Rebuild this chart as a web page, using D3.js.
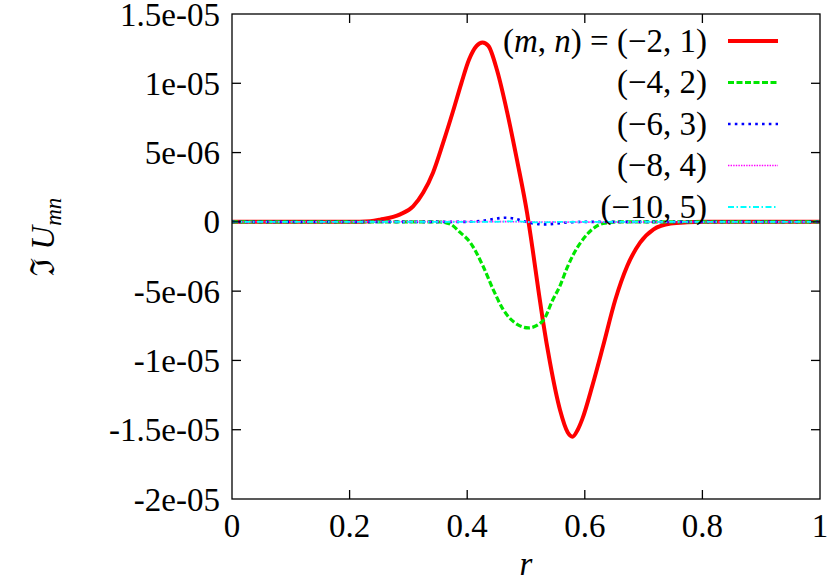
<!DOCTYPE html>
<html>
<head>
<meta charset="utf-8">
<script src="https://cdn.jsdelivr.net/npm/d3@7"></script>
<style>
  html, body { margin: 0; padding: 0; background: #fff; }
  svg { display: block; }
  html body div#chart svg#plotsvg text.lbl,
  html body div#chart svg#plotsvg text.lbl tspan {
    font-family: 'Liberation Serif', Tinos, 'Times New Roman', 'Noto Serif', serif !important;
  }
</style>
</head>
<body>
<div id="chart"></div>
<script>
// r grid and values per mode
const red_r = [0, 0.20, 0.235, 0.252, 0.286, 0.308, 0.325, 0.342, 0.359, 0.376, 0.39, 0.403, 0.416, 0.426, 0.436, 0.451, 0.468, 0.485, 0.502, 0.511, 0.521, 0.529, 0.541, 0.558, 0.571, 0.579, 0.588, 0.596, 0.613, 0.631, 0.652, 0.672, 0.694, 0.717, 0.746, 0.774, 0.80, 1];
const red_v = [0, 0, 5e-8, 1.6e-7, 5.4e-7, 1.12e-6, 2.1e-6, 3.57e-6, 5.7e-6, 8.0e-6, 1.0e-5, 1.17e-5, 1.27e-5, 1.295e-5, 1.27e-5, 1.09e-5, 7.9e-6, 4.4e-6, 0.6e-6, -1.9e-6, -4.9e-6, -7.2e-6, -1.02e-5, -1.36e-5, -1.52e-5, -1.55e-5, -1.5e-5, -1.42e-5, -1.18e-5, -8.98e-6, -5.6e-6, -3.2e-6, -1.5e-6, -5.4e-7, -1.2e-7, -3e-8, 0, 0];

const green_r = [0, 0.33, 0.354, 0.372, 0.388, 0.405, 0.427, 0.444, 0.461, 0.485, 0.504, 0.528, 0.546, 0.558, 0.57, 0.58, 0.604, 0.631, 0.66, 1];
const green_v = [0, 0, -1e-8, -1.8e-7, -7.6e-7, -1.48e-6, -3.2e-6, -4.87e-6, -6.31e-6, -7.4e-6, -7.65e-6, -7.18e-6, -5.59e-6, -4.6e-6, -3.3e-6, -2.4e-6, -9e-7, -1.2e-7, 0, 0];

const blue_r = [0, 0.40, 0.43, 0.45, 0.465, 0.48, 0.50, 0.515, 0.533, 0.55, 0.57, 0.60, 1];
const blue_v = [0, 0, 1e-7, 2.4e-7, 3.0e-7, 2.4e-7, 0, -1.3e-7, -1.8e-7, -1.3e-7, -4e-8, 0, 0];

const mag_r = [0, 0.45, 0.5, 0.55, 1];
const mag_v = [0, 2e-8, 0, -2e-8, 0];

const cyan_r = [0, 0.44, 0.48, 0.52, 0.56, 1];
const cyan_v = [0, 0, 4e-8, -4e-8, 0, 0];

const xTicks = [0, 0.2, 0.4, 0.6, 0.8, 1];
const yTicks = [1.5e-5, 1e-5, 5e-6, 0, -5e-6, -1e-5, -1.5e-5, -2e-5];
const yTickLabels = ["1.5e-05", "1e-05", "5e-06", "0", "-5e-06", "-1e-05", "-1.5e-05", "-2e-05"];

const legendLabels = ["(−4, 2)", "(−6, 3)", "(−8, 4)", "(−10, 5)"];

const series = [
  { r: red_r, v: red_v, color: "#ff0000", width: 4, dash: null },
  { r: green_r, v: green_v, color: "#00e600", width: 3.2, dash: "6,2.5" },
  { r: blue_r, v: blue_v, color: "#0000ff", width: 2.6, dash: "2.6,4.2" },
  { r: mag_r, v: mag_v, color: "#ff00ff", width: 1.6, dash: "1.4,1.2" },
  { r: cyan_r, v: cyan_v, color: "#00ffff", width: 1.8, dash: "6,2.5,1.5,2.5" },
];

const W = 829, H = 583;
const margin = { left: 232, right: 9, top: 14, bottom: 84 };
const FONT = "'Liberation Serif'";

const svg = d3.select("#chart").append("svg")
  .attr("id", "plotsvg")
  .attr("width", W).attr("height", H);

const x = d3.scaleLinear().domain([0, 1]).range([margin.left, W - margin.right]);
const y = d3.scaleLinear().domain([-2e-5, 1.5e-5]).range([H - margin.bottom, margin.top]);

const line = d3.line()
  .x((d) => x(d[0]))
  .y((d) => y(d[1]))
  .curve(d3.curveMonotoneX);

const plot = svg.append("g");

series.forEach((s) => {
  const pts = s.r.map((r, i) => [r, s.v[i]]);
  plot.append("path")
    .datum(pts)
    .attr("d", line)
    .attr("fill", "none")
    .attr("stroke", s.color)
    .attr("stroke-width", s.width)
    .attr("stroke-dasharray", s.dash)
    .attr("stroke-linejoin", "round");
});

// frame with inward ticks on all four sides
const tickLen = 9;
const axes = svg.append("g").attr("stroke", "#000").attr("stroke-width", 1.3);

axes.append("rect")
  .attr("x", x(0)).attr("y", y(1.5e-5))
  .attr("width", x(1) - x(0)).attr("height", y(-2e-5) - y(1.5e-5))
  .attr("fill", "none");

axes.selectAll("line.xb").data(xTicks.slice(1, -1)).join("line")
  .attr("x1", (d) => x(d)).attr("x2", (d) => x(d))
  .attr("y1", y(-2e-5)).attr("y2", y(-2e-5) - tickLen);
axes.selectAll("line.xt").data(xTicks.slice(1, -1)).join("line")
  .attr("x1", (d) => x(d)).attr("x2", (d) => x(d))
  .attr("y1", y(1.5e-5)).attr("y2", y(1.5e-5) + tickLen);
axes.selectAll("line.yl").data(yTicks.slice(1, -1)).join("line")
  .attr("x1", x(0)).attr("x2", x(0) + tickLen)
  .attr("y1", (d) => y(d)).attr("y2", (d) => y(d));
axes.selectAll("line.yr").data(yTicks.slice(1, -1)).join("line")
  .attr("x1", x(1)).attr("x2", x(1) - tickLen)
  .attr("y1", (d) => y(d)).attr("y2", (d) => y(d));

const fs = 33;

svg.append("g").selectAll("text").data(yTicks).join("text")
  .attr("x", x(0) - 12)
  .attr("y", (d) => y(d))
  .attr("dy", "0.35em")
  .attr("text-anchor", "end")
  .attr("font-size", fs)
  .text((d, i) => yTickLabels[i]);

svg.append("g").selectAll("text").data(xTicks).join("text")
  .attr("x", (d) => x(d))
  .attr("y", y(-2e-5) + 38)
  .attr("text-anchor", "middle")
  .attr("font-size", fs)
  .text((d) => d3.format("")(d));

svg.append("text")
  .attr("x", (x(0) + x(1)) / 2)
  .attr("y", H - 8)
  .attr("text-anchor", "middle")
  .attr("font-size", 33)
  .attr("font-style", "italic")
  .text("r");

const yl = svg.append("text")
  .attr("transform", `translate(54, 237) rotate(-90)`)
  .attr("text-anchor", "middle")
  .attr("font-size", 33);
yl.append("tspan").text("ℑ ");
yl.append("tspan").attr("font-style", "italic").text("U");
yl.append("tspan").attr("font-style", "italic").attr("font-size", 23).attr("dy", 7).text("mn");

// legend
const legX = 707, sampleX1 = 728, sampleX2 = 778, row0 = 41, rowGap = 41.5;
const leg = svg.append("g");
series.forEach((s, i) => {
  const yy = row0 + i * rowGap;
  leg.append("line")
    .attr("x1", sampleX1).attr("x2", sampleX2)
    .attr("y1", yy).attr("y2", yy)
    .attr("stroke", s.color)
    .attr("stroke-width", s.width)
    .attr("stroke-dasharray", s.dash);
  const t = leg.append("text")
    .attr("x", legX).attr("y", yy)
    .attr("dy", "0.33em")
    .attr("text-anchor", "end")
    .attr("font-size", 33);
  if (i === 0) {
    t.append("tspan").text("(");
    t.append("tspan").attr("font-style", "italic").text("m");
    t.append("tspan").text(", ");
    t.append("tspan").attr("font-style", "italic").text("n");
    t.append("tspan").text(") = (−2, 1)");
  } else {
    t.text(legendLabels[i - 1]);
  }
});

svg.selectAll("text")
  .attr("class", "lbl")
  .attr("font-family", FONT)
  .attr("fill", "#000");
svg.selectAll("tspan").attr("font-family", FONT);
</script>
</body>
</html>
